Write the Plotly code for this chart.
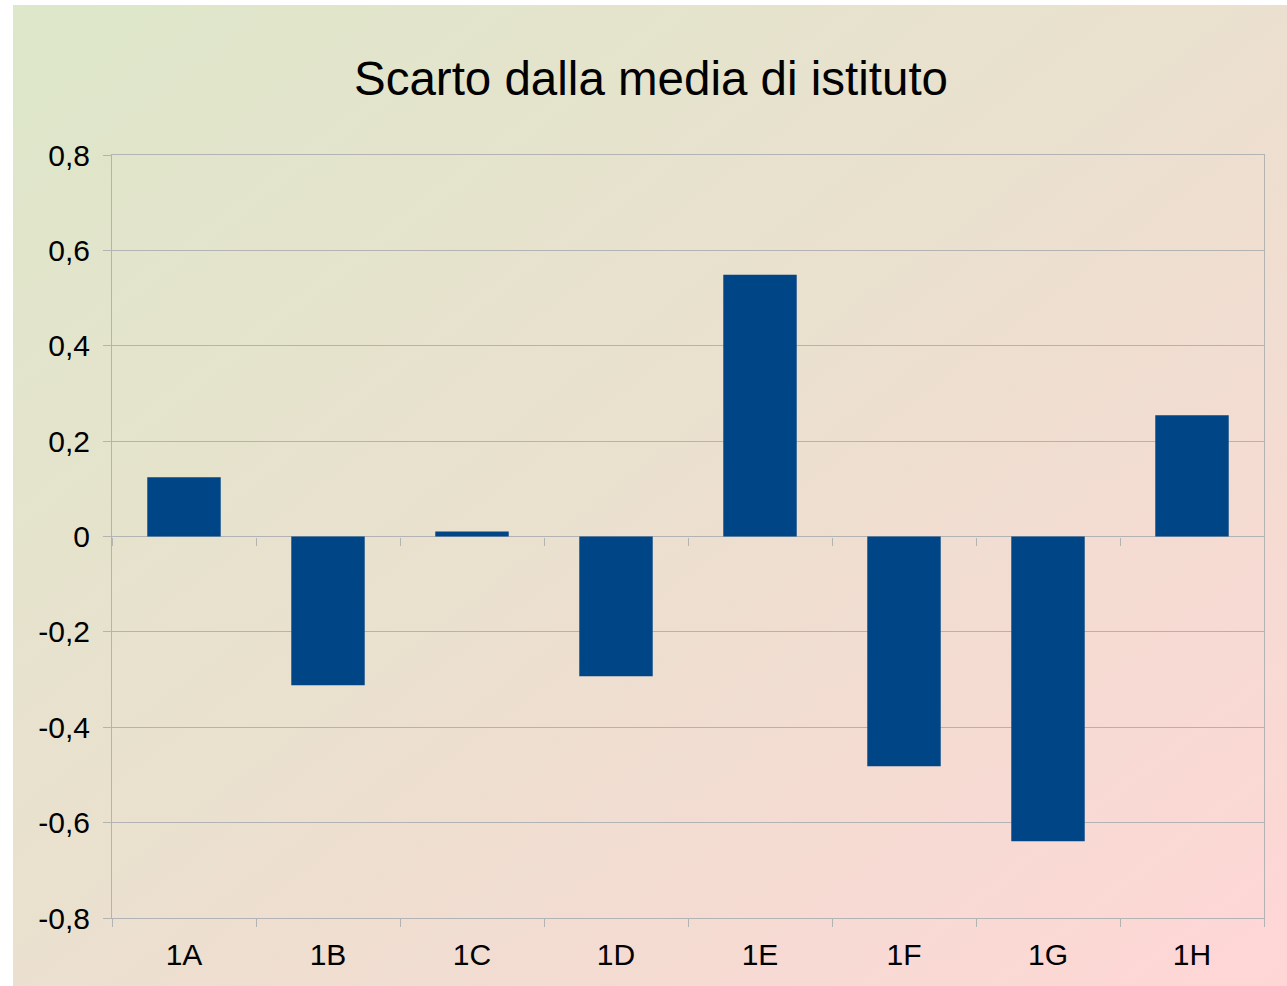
import base64
import plotly.graph_objects as go

categories = ["1A", "1B", "1C", "1D", "1E", "1F", "1G", "1H"]
values = [0.124, -0.312, 0.0105, -0.293, 0.549, -0.482, -0.639, 0.254]
y_tickvals = [0.8, 0.6, 0.4, 0.2, 0, -0.2, -0.4, -0.6, -0.8]
y_ticktext = ["0,8", "0,6", "0,4", "0,2", "0", "-0,2", "-0,4", "-0,6", "-0,8"]
title_text = "Scarto dalla media di istituto"

W, H = 1287, 986
L, R, T, B = 112, 23, 155, 68
pw, ph = W - L - R, H - T - B

svg = ('<svg xmlns="http://www.w3.org/2000/svg" width="1274" height="981" preserveAspectRatio="none">'
       '<defs><linearGradient id="g" x1="0" y1="0" x2="1" y2="1">'
       '<stop offset="0" stop-color="#dde7c9"/><stop offset="0.5" stop-color="#ebe0cf"/>'
       '<stop offset="1" stop-color="#ffd6d6"/></linearGradient></defs>'
       '<rect width="1274" height="981" fill="url(#g)"/></svg>')
src = "data:image/svg+xml;base64," + base64.b64encode(svg.encode()).decode()

FONT = "Liberation Sans, Arial, sans-serif"
GRID = "#b3b3b3"

fig = go.Figure()
fig.add_trace(go.Bar(x=categories, y=values, marker_color="#004586",
                     marker_line_width=0, showlegend=False))
fig.add_trace(go.Scatter(x=categories, y=[0] * len(categories), xaxis="x2",
                         mode="markers", marker=dict(opacity=0),
                         showlegend=False, hoverinfo="skip"))

fig.update_layout(
    width=W, height=H,
    margin=dict(l=L, r=R, t=T, b=B, pad=0),
    paper_bgcolor="white",
    plot_bgcolor="rgba(0,0,0,0)",
    separators=",.",
    bargap=0.49,
    font=dict(family=FONT, size=30, color="#000000"),
    title=dict(text=title_text, font=dict(family=FONT, size=47.5, color="#000000"),
               xref="container", x=651 / W, xanchor="center",
               yref="container", y=1 - 78 / H, yanchor="middle"),
    images=[dict(source=src, xref="paper", yref="paper",
                 x=(13 - L) / pw, y=(H - B - 5) / ph,
                 sizex=(W - 13) / pw, sizey=(H - 5) / ph,
                 sizing="stretch", xanchor="left", yanchor="top", layer="below")],
    xaxis=dict(type="category", categoryorder="array", categoryarray=categories,
               range=[-0.5, 7.5], showgrid=False, showline=True, linecolor=GRID,
               linewidth=1, mirror=True, ticks="outside", tickson="boundaries",
               ticklen=8, tickcolor=GRID, tickwidth=1, ticklabelstandoff=10,
               tickfont=dict(family=FONT, size=30, color="#000000")),
    xaxis2=dict(type="category", categoryorder="array", categoryarray=categories,
                range=[-0.5, 7.5], overlaying="x", anchor="free", position=0.5,
                side="bottom", showgrid=False, showline=False, ticks="outside",
                tickson="boundaries", ticklen=8, tickcolor=GRID, tickwidth=1,
                showticklabels=False),
    yaxis=dict(range=[-0.8, 0.8], tickvals=y_tickvals, ticktext=y_ticktext,
               showgrid=True, gridcolor=GRID, gridwidth=1,
               zeroline=True, zerolinecolor=GRID, zerolinewidth=1,
               showline=True, linecolor=GRID, linewidth=1, mirror=True,
               ticks="outside", ticklen=8, tickcolor=GRID, tickwidth=1,
               ticklabelstandoff=7,
               tickfont=dict(family=FONT, size=30, color="#000000")),
)

fig.write_html("out.html", config={"displayModeBar": False},
               post_script="document.body.style.margin='0';")
